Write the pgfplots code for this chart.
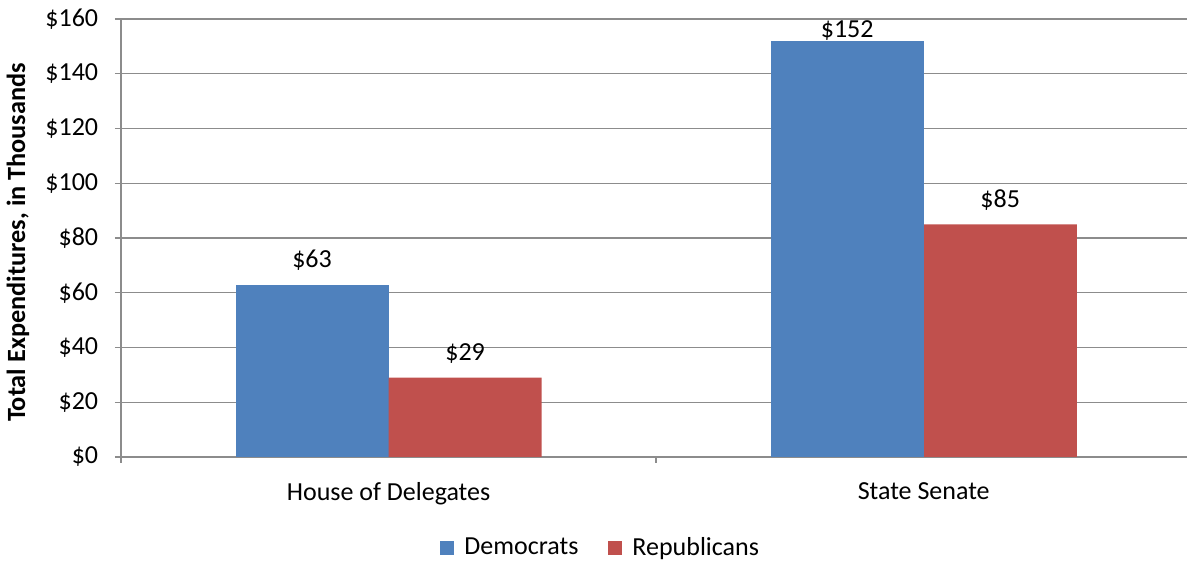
\documentclass[border=0pt]{standalone}
\usepackage{pgfplots}
\pgfplotsset{compat=1.18}
\usepackage{fontspec}
\setmainfont{Carlito}
\definecolor{dem}{HTML}{4F81BD}
\definecolor{rep}{HTML}{C0504D}
\definecolor{gridc}{HTML}{8C8C8C}
\begin{document}
\fontsize{26}{30}\selectfont
\begin{tikzpicture}
\useasboundingbox (0,0) rectangle (1187pt,561pt);
\begin{axis}[
  at={(121pt,104pt)}, anchor=south west,
  scale only axis, width=1066pt, height=438pt,
  ybar,
  xmin=-0.5, xmax=1.492, ymin=0, ymax=160,
  /pgf/number format/assume math mode=true,
  font=\fontsize{26}{30}\selectfont,
  axis lines*=left,
  axis line style={draw=gridc, line width=1.3pt},
  ymajorgrids, grid style={draw=gridc, line width=1.3pt},
  ytick={0,20,...,160},
  yticklabel={\$\pgfmathprintnumber{\tick}},
  tick align=outside, major tick length=6pt,
  tick style={draw=gridc, line width=1.3pt},
  yticklabel style={xshift=-8pt},
  xtick={-0.5,0.5,1.5}, xticklabels={},
  extra x ticks={0,1},
  extra x tick labels={House of Delegates,State Senate},
  extra x tick style={major tick length=0pt, grid=none, xticklabel style={yshift=-17pt}},
  every axis y label/.style={at={(axis description cs:0,0.49)}, xshift=-103pt, rotate=90, anchor=center},
  ylabel={\bfseries\fontsize{26.3}{30}\selectfont Total Expenditures, in Thousands},
  legend style={at={(0.45,-0.208)}, anchor=center, draw=none, fill=none,
    legend columns=2, font=\fontsize{26}{30}\selectfont,
    /tikz/every odd column/.append style={column sep=8pt},
    /tikz/every even column/.append style={column sep=28pt}},
  legend cell align=left,
  legend image code/.code={\fill[#1] (0pt,-7pt) rectangle (14pt,7pt);},
  nodes near coords={\$\pgfmathprintnumber{\pgfplotspointmeta}},
  every node near coord/.append style={font=\fontsize{26}{30}\selectfont, anchor=south, inner sep=0pt, yshift=14pt},
]
\addplot[fill=dem, draw=none, bar width=0.286, bar shift=-0.143] coordinates {(0,63)};
\addlegendentry{Democrats}
\addplot[fill=rep, draw=none, bar width=0.286, bar shift=0.143] coordinates {(0,29) (1,85)};
\addlegendentry{Republicans}
\addplot[fill=dem, draw=none, bar width=0.286, bar shift=-0.143, forget plot,
  every node near coord/.append style={yshift=-14pt}] coordinates {(1,152)};
\end{axis}
\end{tikzpicture}
\end{document}
